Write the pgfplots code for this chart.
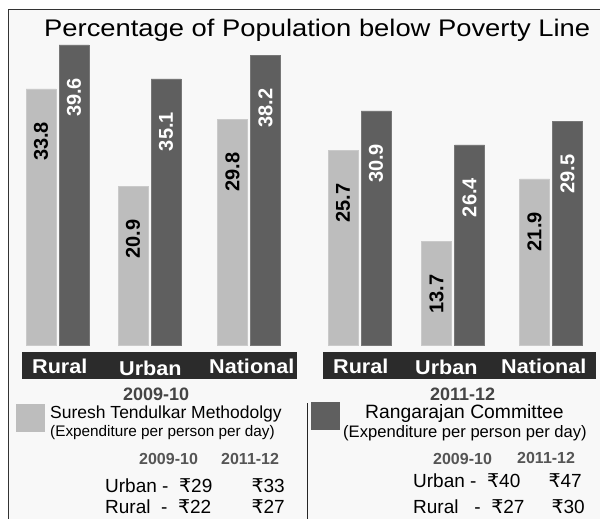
\documentclass[border=0pt]{standalone}
\usepackage{fontspec}
\setmainfont{Liberation Sans}
\newfontfamily\rupeefont{DejaVu Sans}
\newfontfamily\widefont[FakeStretch=1.14]{Liberation Sans}
\newfontfamily\bandfont[FakeStretch=1.08]{Liberation Sans}
\usepackage{pgfplots}
\pgfplotsset{compat=1.18}

\definecolor{lightbar}{HTML}{BDBDBD}
\definecolor{darkbar}{HTML}{5F5F5F}
\definecolor{band}{HTML}{2B2B2B}
\definecolor{panel}{HTML}{F8F8F8}
\definecolor{yeargray}{HTML}{444444}
\definecolor{headgray}{HTML}{555555}

\newcommand{\fs}[1]{\fontsize{#1}{#1}\selectfont}
\newcommand{\rs}{{\rupeefont ₹}}

\begin{document}
\begin{tikzpicture}
% page and panel, in pixel units (1px = 1pt), y downwards
\begin{scope}[x=1pt,y=-1pt]
  \fill[white] (0,0) rectangle (600,519);
  \fill[panel] (8.3,9.3) rectangle (600,519);
  \draw[black!80, line width=1.4pt] (8.3,519) -- (8.3,9.3) -- (600,9.3);
\end{scope}

\begin{axis}[
    at={(0,0)}, anchor=north west,
    scale only axis, width=600pt, height=519pt,
    xmin=0, xmax=600, ymin=-22.955, ymax=45.515,
    enlargelimits=false,
    hide axis, clip=false,
    ybar=3pt, bar width=30pt,
    nodes near coords,
    /pgf/number format/.cd, fixed, fixed zerofill, precision=1, assume math mode=true,
    /pgfplots/.cd,
    every node near coord/.append style={
        font=\fs{20}\bfseries, yshift=-33pt, rotate=90, anchor=east, inner sep=0pt},
]
% Suresh Tendulkar methodology
\addplot[fill=lightbar, draw=lightbar!80!white,
    every node near coord/.append style={text=black}]
    coordinates {(57.5,33.8) (149.5,20.9) (249,29.8) (359.5,25.7) (453,13.7) (551,21.9)};
% Rangarajan committee
\addplot[fill=darkbar, draw=darkbar!85!white,
    every node near coord/.append style={text=white}]
    coordinates {(57.5,39.6) (149.5,35.1) (249,38.2) (359.5,30.9) (453,26.4) (551,29.5)};
\end{axis}

\begin{scope}[x=1pt,y=-1pt]
  % title
  \node[anchor=base west, inner sep=0pt, font=\widefont\fs{24}] at (44,37)
    {Percentage of Population below Poverty Line};

  % category bands
  \fill[band] (22,352) rectangle (297,379);
  \fill[band] (323,352) rectangle (596,379);
  \begin{scope}[every node/.style={anchor=base west, inner sep=0pt, text=white, font=\bandfont\fs{20}\bfseries}]
    \node at (32,373) {Rural};
    \node at (119,375) {Urban};
    \node at (209,373) {National};
    \node at (333,373) {Rural};
    \node at (415,374) {Urban};
    \node at (501,373) {National};
  \end{scope}
  \node[anchor=base west, inner sep=0pt, text=yeargray, font=\fs{18}\bfseries] at (123,400) {2009-10};
  \node[anchor=base west, inner sep=0pt, text=yeargray, font=\fs{18}\bfseries] at (430,400) {2011-12};

  % legend and notes
  \fill[lightbar] (16,404) rectangle (45,432);
  \fill[darkbar] (311,402) rectangle (340,430);
  \draw[black!85, line width=1pt] (307,403) -- (307,519);

  \begin{scope}[every node/.style={anchor=base west, inner sep=0pt}]
    \node[font=\fs{17.5}] at (50,418) {Suresh Tendulkar Methodolgy};
    \node[font=\fs{15.3}] at (50,436) {(Expenditure per person per day)};
    \node[font=\fs{19.3}] at (365,418) {Rangarajan Committee};
    \node[font=\fs{16.6}] at (343,437) {(Expenditure per person per day)};

    \node[font=\fs{16}\bfseries, text=headgray] at (139,464) {2009-10};
    \node[font=\fs{16}\bfseries, text=headgray] at (221,464) {2011-12};
    \node[font=\fs{16}\bfseries, text=headgray] at (433,464) {2009-10};
    \node[font=\fs{16}\bfseries, text=headgray] at (517,463) {2011-12};

    \node[font=\fs{19}] at (105,492) {Urban -\ \ \rs29};
    \node[font=\fs{19}] at (105,513) {Rural\ \ -\ \ \rs22};
    \node[font=\fs{19}] at (413,487) {Urban -\ \ \rs40};
    \node[font=\fs{19}] at (413,513) {Rural\ \ \ -\ \ \rs27};
  \end{scope}
  \begin{scope}[every node/.style={anchor=base east, inner sep=0pt, font=\fs{19}}]
    \node at (285,492) {\rs33};
    \node at (285,513) {\rs27};
    \node at (582,487) {\rs47};
    \node at (585,513) {\rs30};
  \end{scope}
\end{scope}

\pgfresetboundingbox
\path (0,0) rectangle (600pt,-519pt);
\end{tikzpicture}
\end{document}
